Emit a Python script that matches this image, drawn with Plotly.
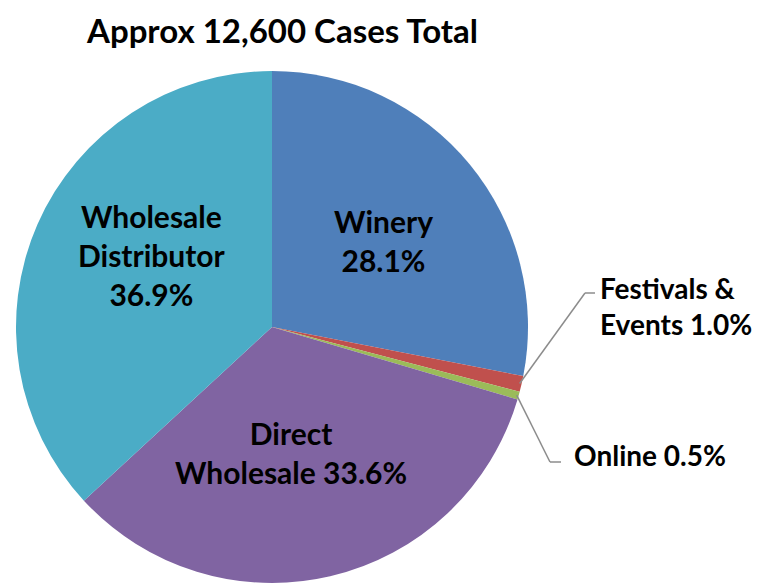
import math
import plotly.graph_objects as go

labels = ["Winery", "Festivals & Events", "Online", "Direct Wholesale", "Wholesale Distributor"]
values = [28.1, 1.0, 0.5, 33.6, 36.9]
colors = ["#4F7FBA", "#C0504D", "#9BBB59", "#8064A2", "#4BACC6"]
title_text = "Approx 12,600 Cases Total"

OFF = 8  # page body margin
W, H = 762 - OFF, 584 - OFF
cx, cy, R = 272, 327, 256  # page pixel coords of pie centre / radius

def px(x, y):
    return (x - OFF) / W, 1 - (y - OFF) / H

x0d, y1d = px(cx - R, cy - R)
x1d, y0d = px(cx + R, cy + R)

fig = go.Figure(go.Pie(
    labels=labels, values=values, sort=False, direction="clockwise", rotation=0,
    marker=dict(colors=colors, line=dict(width=0)),
    textinfo="none", hoverinfo="label+percent", showlegend=False,
    domain=dict(x=[x0d, x1d], y=[max(0, y0d), y1d]),
))

FAM = "Lato, 'Open Sans', sans-serif"
ann = []
def label(x, y, text, xanchor="center", size=30):
    ax, ay = px(x, y)
    ann.append(dict(x=ax, y=ay, xref="paper", yref="paper", text=text, showarrow=False,
                    xanchor=xanchor, yanchor="middle", align="center" if xanchor == "center" else "left",
                    font=dict(family=FAM, size=size, color="black")))

label(383, 240, "<b>Winery<br>28.1%</b>")
label(152, 255, "<b>Wholesale<br>Distributor<br>36.9%</b>")
label(291, 452, "<b>Direct<br>Wholesale 33.6%</b>")
label(598, 306, "<b>Festivals &amp;<br>Events 1.0%</b>", xanchor="left", size=28)
label(572, 455, "<b>Online 0.5%</b>", xanchor="left", size=28)

tx, _ = px(282, 0)
ann.append(dict(x=tx, y=1, xref="paper", yref="paper", text="<b>" + title_text + "</b>",
                showarrow=False, xanchor="center", yanchor="top",
                font=dict(family=FAM, size=33, color="black")))

# leader lines from slice mid-angles
total = sum(values)
cum = 0
mids = []
for v in values:
    mids.append((cum + v / 2) / total * 2 * math.pi)
    cum += v

def edge(a, r=R):
    return cx + r * math.sin(a), cy - r * math.cos(a)

shapes = []
line = dict(color="#8C8C8C", width=1.5)
def polyline(pts):
    for (xa, ya), (xb, yb) in zip(pts[:-1], pts[1:]):
        a0 = px(xa, ya); a1 = px(xb, yb)
        shapes.append(dict(type="line", xref="paper", yref="paper",
                           x0=a0[0], y0=a0[1], x1=a1[0], y1=a1[1], line=line))

polyline([edge(mids[1], R - 2), (585, 293), (595, 293)])
polyline([edge(mids[2], R - 2), (550, 462), (561, 462)])

fig.update_layout(width=W, height=H, margin=dict(l=0, r=0, t=0, b=0),
                  paper_bgcolor="white", plot_bgcolor="white",
                  annotations=ann, shapes=shapes)
fig.write_html("out.html")
